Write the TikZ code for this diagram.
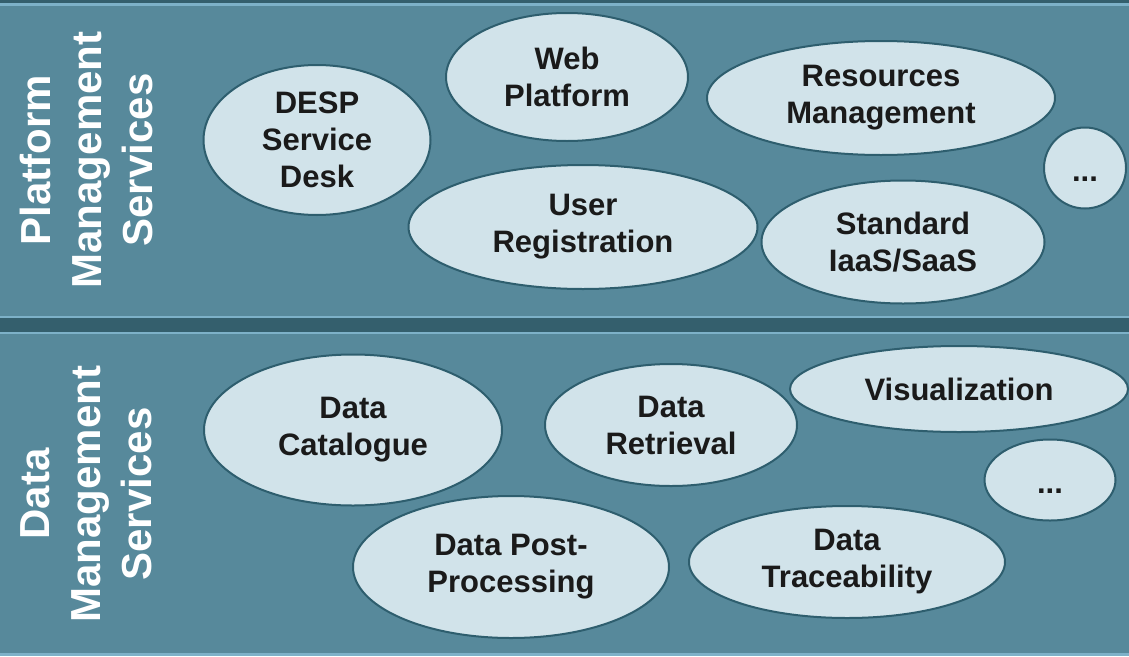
\documentclass[tikz,border=0pt]{standalone}
\usepackage{fontspec}
\setmainfont{Liberation Sans}
\usepackage{tikz}
\usetikzlibrary{shapes.geometric}
\definecolor{panel}{HTML}{57899B}
\definecolor{band}{HTML}{345F6D}
\definecolor{edgeline}{HTML}{7DB1C8}
\definecolor{bubble}{HTML}{D1E3EA}
\definecolor{bubbleline}{HTML}{2E5E6E}
\definecolor{ink}{HTML}{1A1A1A}

\begin{document}
\begin{tikzpicture}[
            x = 1pt, y = -1pt, % pixel grid, y downwards
            semithick
        ]

        \tikzstyle{service}=[
            ellipse,
            draw = bubbleline,
            line width = 2pt,
            fill = bubble,
            text = ink,
            inner sep = 0pt,
            align = center,
            font = \fontsize{31}{37}\selectfont\bfseries
        ]
        \tikzstyle{more}=[
            service,
            text height = 30pt, % dots sit on the baseline
            text depth = 4pt
        ]
        \tikzstyle{layer}=[
            rotate = 90,
            text = white,
            align = center,
            font = \fontsize{42}{51}\selectfont\bfseries
        ]

        \useasboundingbox (0,0) rectangle (1129,656);

        % bands
        \fill[band] (0,0) rectangle (1129,656);
        \fill[edgeline] (0,3) rectangle (1129,6);
        \fill[edgeline] (0,315.5) rectangle (1129,317.5);
        \fill[edgeline] (0,331.5) rectangle (1129,333.5);
        \fill[edgeline] (0,653) rectangle (1129,656);
        \fill[panel] (0,6) rectangle (1129,315.5);
        \fill[panel] (0,333.5) rectangle (1129,653);

        % platform level
        \node[layer] (PMS) at (86,160) {Platform\\Management\\Services};

        \node[service, minimum width=227pt, minimum height=150pt] (Desk) at (317,140) {DESP\\Service\\Desk};
        \node[service, minimum width=242pt, minimum height=128pt] (Web) at (567,77) {Web\\Platform};
        \node[service, minimum width=348pt, minimum height=114pt] (Res) at (881,98) {Resources\\Management};
        \node[service, minimum width=349pt, minimum height=124pt] (User) at (583,227) {User\\Registration};
        \node[service, minimum width=283pt, minimum height=123pt] (Std) at (903,242) {Standard\\IaaS/SaaS};
        \node[more, minimum width=82pt, minimum height=81pt] (PMore) at (1085,168) {...};

        % data level
        \node[layer] (DMS) at (86,494) {Data\\Management\\Services};

        \node[service, minimum width=298pt, minimum height=151pt] (Cat) at (353,430) {Data\\Catalogue};
        \node[service, minimum width=252pt, minimum height=122pt] (Ret) at (671,425) {Data\\Retrieval};
        \node[service, minimum width=338pt, minimum height=86pt] (Vis) at (959,389) {Visualization};
        \node[more, minimum width=131pt, minimum height=81pt] (DMore) at (1050,480) {...};
        \node[service, minimum width=316pt, minimum height=142pt] (Post) at (511,567) {Data Post-\\Processing};
        \node[service, minimum width=316pt, minimum height=112pt] (Trace) at (847,562) {Data\\Traceability};

\end{tikzpicture}
\end{document}
